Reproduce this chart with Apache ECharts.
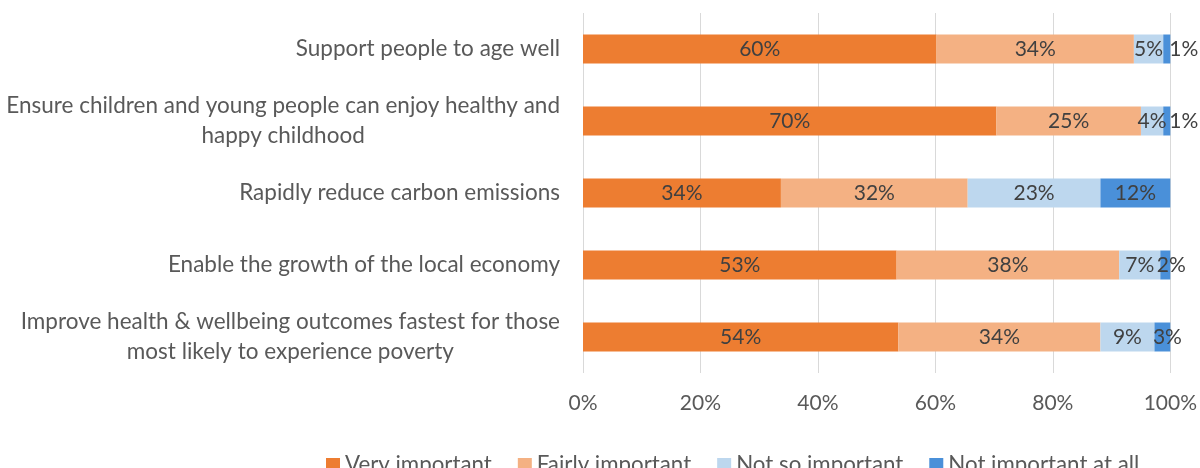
<!DOCTYPE html>
<html>
<head>
<meta charset="utf-8">
<script src="https://cdn.jsdelivr.net/npm/echarts@6/dist/echarts.min.js"></script>
<style>html,body{margin:0;padding:0;background:#fff}#c{width:1200px;height:468px}</style>
</head>
<body>
<div id="c"></div>
<script>
const categories = [
  "Support people to age well",
  "Ensure children and young people can enjoy healthy and\nhappy childhood",
  "Rapidly reduce carbon emissions",
  "Enable the growth of the local economy",
  "Improve health & wellbeing outcomes fastest for those\nmost likely to experience poverty"
];
const seriesNames = ["Very important", "Fairly important", "Not so important", "Not important at all"];
const veryImportant = [60.2, 70.4, 33.7, 53.4, 53.7];
const fairlyImportant = [33.6, 24.6, 31.8, 37.9, 34.4];
const notSoImportant = [5.0, 3.8, 22.6, 7.0, 9.2];
const notImportantAtAll = [1.2, 1.2, 11.9, 1.7, 2.7];
const xTickLabels = ["0%", "20%", "40%", "60%", "80%", "100%"];

const colors = ["#ED7D31", "#F4B183", "#BDD7EE", "#4A90D9"];
const FONT = "Lato";
const allData = [veryImportant, fairlyImportant, notSoImportant, notImportantAtAll];
// label offsets for the last series (style only)
const lastOffsets = [[17,0],[17,0],[0,0],[6,0],[5,0]];

const series = allData.map((arr, si) => ({
  name: seriesNames[si],
  type: 'bar',
  stack: 'total',
  barWidth: 29,
  itemStyle: { color: colors[si] },
  label: {
    show: true,
    position: 'inside',
    color: '#404040',
    fontFamily: FONT,
    fontSize: 21,
    formatter: p => Math.round(p.value) + '%'
  },
  labelLayout: si === 3 ? (p => ({ dx: lastOffsets[p.dataIndex][0], dy: lastOffsets[p.dataIndex][1] })) : undefined,
  data: arr
}));

const chart = echarts.init(document.getElementById('c'), null, { renderer: 'canvas' });
chart.setOption({
  animation: false,
  grid: { left: 583, right: 29, top: 13, bottom: 95, containLabel: false },
  legend: {
    data: seriesNames,
    left: 321,
    top: 449,
    itemWidth: 14,
    itemHeight: 14,
    itemGap: 26,
    icon: 'rect',
    textStyle: { color: '#595959', fontFamily: FONT, fontSize: 22.3 }
  },
  xAxis: {
    type: 'value',
    min: 0,
    max: 100,
    interval: 20,
    axisLine: { show: false },
    axisTick: { show: false },
    splitLine: { show: true, lineStyle: { color: '#d9d9d9', width: 1 } },
    axisLabel: {
      color: '#595959',
      fontFamily: FONT,
      fontSize: 21,
      margin: 20,
      formatter: v => xTickLabels[Math.round(v / 20)]
    }
  },
  yAxis: {
    type: 'category',
    data: categories,
    inverse: true,
    axisLine: { show: false },
    axisTick: { show: false },
    axisLabel: {
      margin: 23,
      color: '#595959',
      fontFamily: FONT,
      fontSize: 22.5,
      lineHeight: 30,
      formatter: v => v.split('\n').map(l => '{c|' + l + '}').join('\n'),
      rich: { c: { align: 'center', color: '#595959', fontFamily: FONT, fontSize: 22.5, lineHeight: 30 } }
    }
  },
  series: series
});
</script>
</body>
</html>
